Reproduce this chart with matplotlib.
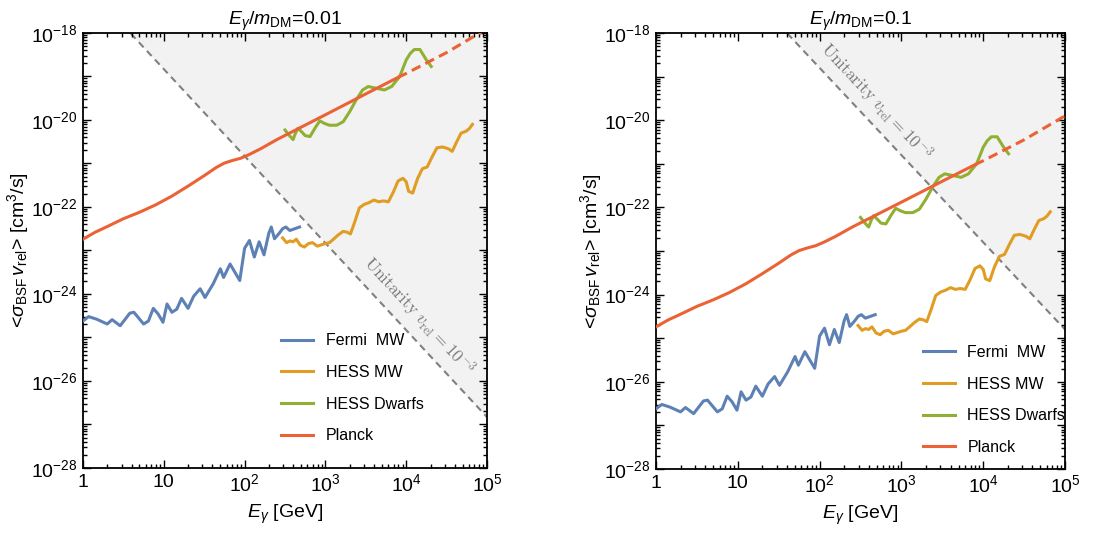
import numpy as np
import matplotlib
matplotlib.use("Agg")
import matplotlib.pyplot as plt
from matplotlib.ticker import FixedLocator, FuncFormatter, LogLocator, NullFormatter

plt.rcParams['font.family'] = ['Liberation Sans', 'DejaVu Sans']
plt.rcParams['mathtext.fontset'] = 'custom'
plt.rcParams['mathtext.rm'] = 'Liberation Sans'
plt.rcParams['mathtext.it'] = 'Liberation Sans:italic'
plt.rcParams['mathtext.bf'] = 'Liberation Sans:bold'
plt.rcParams['lines.scale_dashes'] = False

# limits for E_gamma/m_DM = 0.01, given as log10(E/GeV), log10(<sigma v>/cm^3 s^-1)
fermi_logE = [0.00, 0.07, 0.17, 0.30, 0.36, 0.46, 0.58, 0.63, 0.75, 0.81, 0.87, 0.93,
              0.99, 1.04, 1.10, 1.16, 1.22, 1.30, 1.37, 1.45, 1.51, 1.61, 1.70, 1.74,
              1.82, 1.88, 1.94, 2.00, 2.06, 2.12, 2.18, 2.24, 2.30, 2.33, 2.37, 2.43,
              2.47, 2.51, 2.56, 2.68]
fermi_logsv = [-24.62, -24.52, -24.58, -24.69, -24.59, -24.73, -24.44, -24.42, -24.69,
               -24.62, -24.33, -24.46, -24.65, -24.23, -24.42, -24.35, -24.10, -24.33,
               -24.05, -23.88, -24.08, -23.77, -23.42, -23.62, -23.31, -23.50, -23.69,
               -22.95, -22.77, -23.15, -22.80, -23.10, -22.60, -22.46, -22.73, -22.60,
               -22.50, -22.46, -22.54, -22.46]

hess_mw_logE = [2.47, 2.52, 2.56, 2.60, 2.64, 2.69, 2.74, 2.79, 2.84, 2.90, 2.95, 3.00,
                3.05, 3.10, 3.16, 3.22, 3.27, 3.31, 3.36, 3.42, 3.48, 3.54, 3.60, 3.66,
                3.72, 3.78, 3.84, 3.90, 3.96, 4.00, 4.03, 4.08, 4.14, 4.20, 4.26, 4.32,
                4.38, 4.45, 4.52, 4.57, 4.62, 4.68, 4.74, 4.78, 4.82]
hess_mw_logsv = [-22.71, -22.82, -22.78, -22.80, -22.74, -22.88, -22.92, -22.84, -22.82,
                 -22.90, -22.87, -22.84, -22.82, -22.74, -22.64, -22.56, -22.58, -22.62,
                 -22.36, -22.02, -21.94, -21.90, -21.84, -21.88, -21.86, -21.88, -21.66,
                 -21.40, -21.34, -21.42, -21.64, -21.68, -21.35, -21.12, -21.08, -20.85,
                 -20.64, -20.62, -20.66, -20.72, -20.52, -20.30, -20.26, -20.20, -20.10]

hess_dw_logE = [2.50, 2.55, 2.60, 2.63, 2.66, 2.70, 2.75, 2.81, 2.87, 2.93, 2.99, 3.05,
                3.14, 3.22, 3.30, 3.38, 3.46, 3.53, 3.63, 3.73, 3.82, 3.92, 4.00, 4.05,
                4.10, 4.17, 4.25, 4.31]
hess_dw_logsv = [-20.23, -20.35, -20.45, -20.30, -20.19, -20.26, -20.36, -20.38, -20.19,
                 -20.02, -20.08, -20.12, -20.12, -20.04, -19.81, -19.54, -19.31, -19.23,
                 -19.27, -19.31, -19.23, -19.00, -18.62, -18.47, -18.38, -18.38, -18.62,
                 -18.77]

planck_logE = [0.00, 0.15, 0.30, 0.50, 0.70, 0.90, 1.10, 1.30, 1.50, 1.65, 1.75, 1.85,
               1.95, 2.05, 2.20, 2.40, 2.60, 2.80, 3.00, 3.50, 3.90, 4.00, 4.50, 5.00]
planck_logsv = [-22.74, -22.58, -22.45, -22.27, -22.12, -21.95, -21.75, -21.52, -21.28,
                -21.09, -20.99, -20.93, -20.88, -20.80, -20.66, -20.45, -20.26, -20.07,
                -19.88, -19.40, -19.02, -18.93, -18.45, -17.90]
planck_dash_from = 3.90  # log10 E where the Planck line turns dashed

# panels
ratios = ['0.01', '0.1']
curve_shift = [0.0, -2.0]               # decades, right panel curves sit 100x lower
unitarity_logE = [0.0, 5.0]
unitarity_logsv = [[-16.83, -26.83], [-14.80, -24.80]]
unitarity_label_pos = [(4.16, -24.50), (2.69, -19.58)]

C_FERMI = '#5E81B5'
C_HESSMW = '#E19C24'
C_HESSDW = '#8FB032'
C_PLANCK = '#EB6235'

fig = plt.figure(figsize=(11.13, 5.36), dpi=100)
rects = [[83/1113, 1-468/536, 404/1113, 435/536],
         [656/1113, 1-469/536, 409/1113, 436/536]]
legend_anchor = [(0.49, 0.31), (0.652, 0.285)]


def xfmt(v, pos):
    e = int(round(np.log10(v)))
    if e == 0:
        return '1'
    if e == 1:
        return '10'
    return r'$10^{%d}$' % e


def yfmt(v, pos):
    e = int(round(np.log10(v)))
    return r'$10^{%d}$' % e if e % 2 == 0 else ''


for i in range(2):
    ax = fig.add_axes(rects[i])
    ax.set_xscale('log')
    ax.set_yscale('log')
    ax.set_xlim(1, 1e5)
    ax.set_ylim(1e-28, 1e-18)

    # excluded (unitarity) region
    uE = 10.0**np.array(unitarity_logE)
    uS = 10.0**np.array(unitarity_logsv[i])
    ax.fill_between(uE, uS, 1e-15, color='#f2f2f2', lw=0, zorder=0)
    ax.plot(uE, uS, color='#808080', lw=1.5, ls=(0, (5, 3.5)), zorder=1)

    s = 10.0**curve_shift[i]
    ax.plot(10.0**np.array(fermi_logE), s*10.0**np.array(fermi_logsv),
            color=C_FERMI, lw=2.2, label='Fermi  MW', zorder=3)
    ax.plot(10.0**np.array(hess_mw_logE), s*10.0**np.array(hess_mw_logsv),
            color=C_HESSMW, lw=2.2, label='HESS MW', zorder=3)
    ax.plot(10.0**np.array(hess_dw_logE), s*10.0**np.array(hess_dw_logsv),
            color=C_HESSDW, lw=2.2, label='HESS Dwarfs', zorder=3)
    pE = np.array(planck_logE)
    pS = np.array(planck_logsv)
    solid = pE <= planck_dash_from
    dashed = pE >= planck_dash_from
    ax.plot(10.0**pE[solid], s*10.0**pS[solid], color=C_PLANCK, lw=2.2,
            label='Planck', zorder=4)
    ax.plot(10.0**pE[dashed], s*10.0**pS[dashed], color=C_PLANCK, lw=2.2,
            ls=(0, (7, 4)), zorder=4)

    # ticks, Mathematica frame style
    ax.xaxis.set_major_locator(FixedLocator([10.0**k for k in range(0, 6)]))
    ax.xaxis.set_minor_locator(LogLocator(base=10, subs=np.arange(2, 10), numticks=100))
    ax.xaxis.set_major_formatter(FuncFormatter(xfmt))
    ax.xaxis.set_minor_formatter(NullFormatter())
    ax.yaxis.set_major_locator(FixedLocator([10.0**k for k in range(-28, -17)]))
    ax.yaxis.set_minor_locator(LogLocator(base=10, subs=np.arange(2, 10), numticks=100))
    ax.yaxis.set_major_formatter(FuncFormatter(yfmt))
    ax.yaxis.set_minor_formatter(NullFormatter())
    ax.tick_params(which='both', direction='in', top=True, right=True, labelsize=14,
                   width=1.0, colors='black')
    ax.tick_params(which='major', length=6, pad=4)
    ax.tick_params(which='minor', length=3)
    for sp in ax.spines.values():
        sp.set_linewidth(1.3)

    ax.set_title(r'$E_\gamma/m_{\rm DM}$=' + ratios[i], fontsize=14, pad=5)
    ax.set_xlabel(r'$E_\gamma$ [GeV]', fontsize=14, labelpad=5)
    ax.set_ylabel(r'<$\sigma_{\rm BSF}\,v_{\rm rel}$> [cm$^3$/s]', fontsize=14, labelpad=0)

    # rotated unitarity label, angle taken from the drawn line
    p1 = ax.transData.transform((uE[0], uS[0]))
    p2 = ax.transData.transform((uE[1], uS[1]))
    ang = np.degrees(np.arctan2(p2[1] - p1[1], p2[0] - p1[0]))
    lx, ly = unitarity_label_pos[i]
    ax.text(10.0**lx, 10.0**ly, r'$\mathrm{Unitarity}\ v_{\rm rel}=10^{-3}$',
            rotation=ang, rotation_mode='anchor', ha='center', va='center',
            color='#7a7a7a', fontsize=12.5, math_fontfamily='cm', zorder=2)

    ax.legend(loc='upper left', bbox_to_anchor=legend_anchor[i], frameon=False,
              fontsize=11.5, handlelength=2.0, handletextpad=0.8, labelspacing=1.05,
              borderpad=0, borderaxespad=0)

fig.savefig('out.png', dpi=100)
